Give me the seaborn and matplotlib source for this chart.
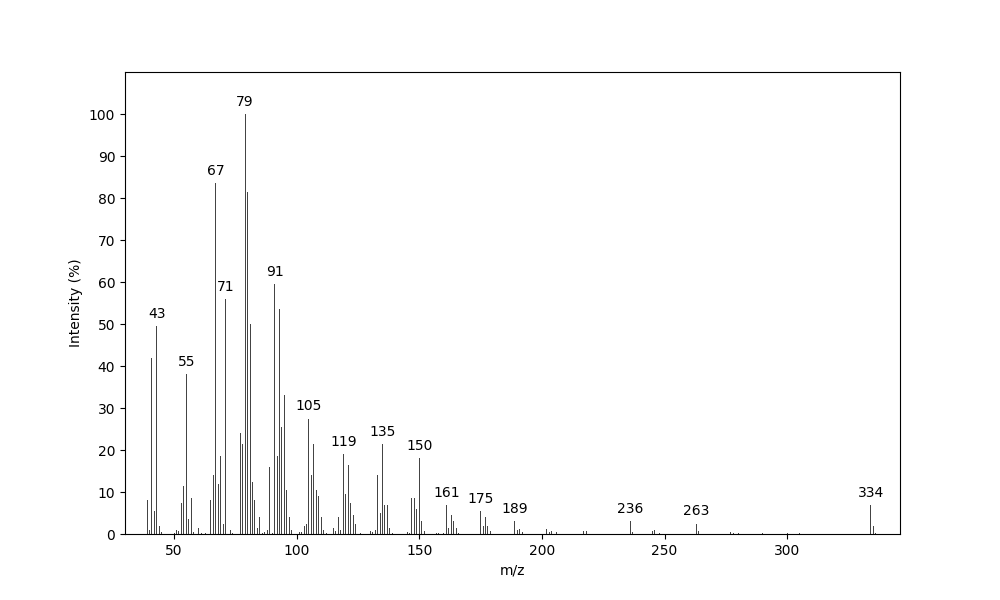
import pandas as pd
import seaborn as sns
import matplotlib.pyplot as plt

mz = [39, 40, 41, 42, 43, 44, 45,
      50, 51, 52, 53, 54, 55, 56, 57, 58, 60, 61, 63,
      65, 66, 67, 68, 69, 70, 71, 72, 73, 74,
      77, 78, 79, 80, 81, 82, 83, 84, 85, 86, 87, 88, 89, 90, 91, 92, 93, 94, 95, 96, 97, 98,
      101, 102, 103, 104, 105, 106, 107, 108, 109, 110, 111, 112,
      115, 116, 117, 118, 119, 120, 121, 122, 123, 124, 125, 126,
      130, 131, 132, 133, 134, 135, 136, 137, 138, 139,
      145, 146, 147, 148, 149, 150, 151, 152,
      157, 158, 160, 161, 162, 163, 164, 165, 166,
      175, 176, 177, 178, 179,
      189, 190, 191, 192,
      202, 203, 204, 206,
      217, 218,
      236, 237,
      245, 246, 248,
      263, 264,
      277, 278, 280, 290, 300, 305,
      334, 335, 336]
intensity = [8, 1, 42, 5.5, 49.5, 2, 0.5,
             0.3, 1, 0.8, 7.5, 11.5, 38, 3.5, 8.5, 0.5, 1.5, 0.3, 0.3,
             8, 14, 83.5, 12, 18.5, 2.5, 56, 2.5, 1, 0.3,
             24, 21.5, 100, 81.5, 50, 12.5, 8, 1.5, 4, 0.3, 0.5, 1, 16, 0.3, 59.5, 18.5, 53.5, 25.5, 33, 10.5, 4, 1,
             0.5, 0.5, 2, 2.5, 27.5, 14, 21.5, 10.5, 9, 4, 1, 0.3,
             1.5, 0.8, 4, 1, 19, 9.5, 16.5, 7.5, 4.5, 2.5, 0.5, 0.3,
             0.8, 0.5, 1, 14, 5, 21.5, 7, 7, 1.5, 0.3,
             0.5, 0.3, 8.5, 8.5, 6, 18, 3, 0.8,
             0.3, 0.3, 0.3, 7, 1.5, 4.5, 3, 1.5, 0.3,
             5.5, 2, 4, 2, 0.8,
             3, 1, 1.2, 0.5,
             1.2, 0.5, 0.8, 0.5,
             0.8, 0.8,
             3, 0.5,
             0.8, 1, 0.3,
             2.5, 0.8,
             0.5, 0.3, 0.3, 0.3, 0.2, 0.3,
             6.8, 1.8, 0.3]
labelled = [43, 55, 67, 71, 79, 91, 105, 119, 135, 150, 161, 175, 189, 236, 263, 334]

df = pd.DataFrame({'mz': mz, 'intensity': intensity})

fig, ax = plt.subplots(figsize=(10, 6), dpi=100)
sns.barplot(data=df, x='mz', y='intensity', native_scale=True, width=0.4,
            color='#444444', saturation=1, ax=ax)

for m in labelled:
    v = df.loc[df.mz == m, 'intensity'].iloc[0]
    ax.text(m, v + 1.2, str(m), ha='center', va='bottom', fontsize=10)

ax.set_xlim(30, 346)
ax.set_ylim(0, 110)
ax.set_yticks(range(0, 101, 10))
ax.set_xticks(range(50, 301, 50))
ax.set_xlabel('m/z')
ax.set_ylabel('Intensity (%)')
plt.savefig('out.png', dpi=100)
